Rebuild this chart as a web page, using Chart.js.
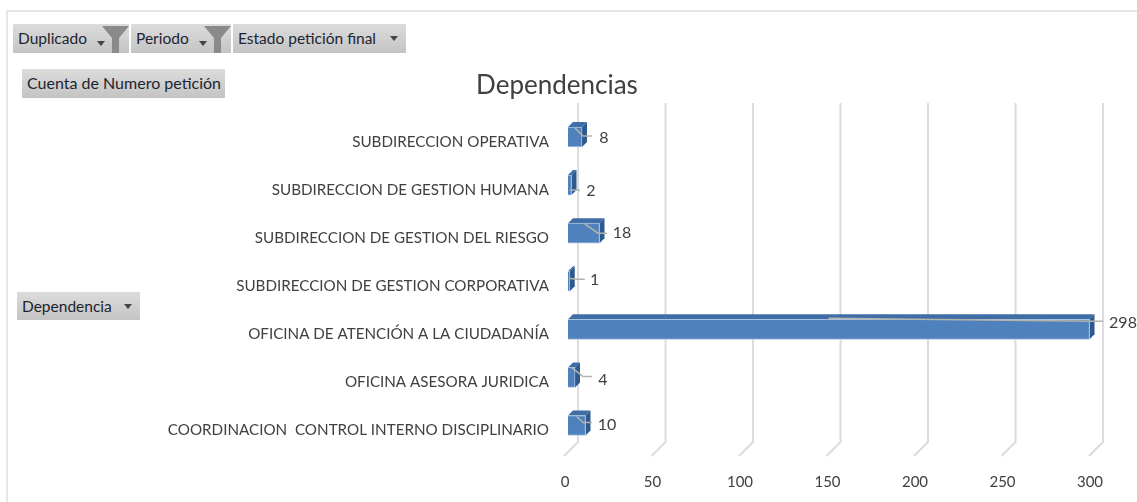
<!DOCTYPE html>
<html><head><meta charset="utf-8">
<script src="https://cdn.jsdelivr.net/npm/chart.js@4"></script>
<style>
html,body{margin:0;padding:0;background:#fff;overflow:hidden}
#wrap{position:relative;width:1137px;height:502px;overflow:hidden}
#frame{position:absolute;left:6px;top:10px;width:1200px;height:600px;border:2px solid #e6e6e6;box-sizing:border-box}
canvas{position:absolute;left:0;top:0}
.btn{position:absolute;box-sizing:border-box;height:29px;background:linear-gradient(#dcdcdc,#c4c4c4);color:#1c2430;font:15.5px/28px Lato,sans-serif;padding-left:5px;white-space:nowrap}
.btn i{position:absolute;width:0;height:0;border-left:4px solid transparent;border-right:4px solid transparent;border-top:5px solid #444}
.btn svg{position:absolute}
</style></head><body>
<div id="wrap">
<div id="frame"></div>
<canvas id="c" width="1137" height="502"></canvas>
<div class="btn" style="left:13px;top:24px;width:116px">Duplicado<i style="left:84px;top:17px"></i><svg style="left:89px;top:1px" width="27" height="28"><path d="M0 1H27L17 13V28H10V13Z" fill="#8a8a8a"/></svg></div>
<div class="btn" style="left:131px;top:24px;width:100px">Periodo<i style="left:68px;top:17px"></i><svg style="left:73px;top:1px" width="27" height="28"><path d="M0 1H27L17 13V28H10V13Z" fill="#8a8a8a"/></svg></div>
<div class="btn" style="left:233px;top:24px;width:173px">Estado petición final<i style="left:157px;top:12px"></i></div>
<div class="btn" style="left:22px;top:69px;width:203px;font-size:16px">Cuenta de Numero petición</div>
<div class="btn" style="left:17px;top:292px;width:123px;height:28px">Dependencia<i style="left:107px;top:12px"></i></div>
</div>
<script>
const categories = ["SUBDIRECCION OPERATIVA","SUBDIRECCION DE GESTION HUMANA","SUBDIRECCION DE GESTION DEL RIESGO","SUBDIRECCION DE GESTION CORPORATIVA","OFICINA DE ATENCIÓN A LA CIUDADANÍA","OFICINA ASESORA JURIDICA","COORDINACION  CONTROL INTERNO DISCIPLINARIO"];
const values = [8,2,18,1,298,4,10];
const chartTitle = "Dependencias";
const seriesName = "Cuenta de Numero petición";

const DEPTH = 5, WALL = 10, FLOOR = 4;
const leaderGap   = [10,8.5,7.5,15,13.5,17,6.5];
const leaderEndDy = [-1,5,0,-2,-8,-1,-3];
const leaderStartDy = [-9,5,-10,-3,-11,-10,-9];
const labelGap = [12,11,15,10,20,11,15];
const labelDy = [1,6,0,-1,-6,2,-1];

const bar3d = {
  id:'bar3d',
  beforeDatasetsDraw(chart){
    const ctx = chart.ctx, x = chart.scales.x;
    ctx.save();
    ctx.strokeStyle = '#dcdcdc'; ctx.lineWidth = 2;
    x.ticks.forEach(t=>{
      const p = x.getPixelForValue(t.value);
      ctx.beginPath();
      ctx.moveTo(p+WALL,103);
      ctx.lineTo(p+WALL,442);
      ctx.lineTo(p-FLOOR,456);
      ctx.stroke();
    });
    chart.getDatasetMeta(0).data.forEach(b=>{
      const top = b.y-b.height/2, bot = b.y+b.height/2, l = b.base, r = b.x;
      ctx.fillStyle = '#3f6ea6';
      ctx.beginPath();
      ctx.moveTo(l,top);ctx.lineTo(l+DEPTH,top-DEPTH);ctx.lineTo(r+DEPTH,top-DEPTH);ctx.lineTo(r,top);ctx.closePath();ctx.fill();
      ctx.fillStyle = '#2f5a8e';
      ctx.beginPath();
      ctx.moveTo(r,top);ctx.lineTo(r+DEPTH,top-DEPTH);ctx.lineTo(r+DEPTH,bot-DEPTH);ctx.lineTo(r,bot);ctx.closePath();ctx.fill();
    });
    ctx.restore();
  },
  afterDatasetsDraw(chart){
    const ctx = chart.ctx;
    ctx.save();
    chart.getDatasetMeta(0).data.forEach((b,i)=>{
      const cx = (b.base+b.x)/2, endX = b.x+leaderGap[i], endY = b.y+leaderEndDy[i];
      ctx.strokeStyle = '#b4b4aa'; ctx.lineWidth = 1.5;
      ctx.beginPath();
      ctx.moveTo(cx,b.y+leaderStartDy[i]);
      ctx.lineTo(endX-9,endY);
      ctx.lineTo(endX,endY);
      ctx.stroke();
      ctx.fillStyle = '#404040';
      ctx.font = '16px Lato,sans-serif';
      ctx.textAlign = 'center'; ctx.textBaseline = 'middle';
      ctx.fillText(String(values[i]), endX+labelGap[i], b.y+labelDy[i]);
    });
    ctx.restore();
  }
};

new Chart(document.getElementById('c'),{
  type:'bar',
  data:{labels:categories,datasets:[{label:seriesName,data:values,backgroundColor:'#4f81bd',borderColor:'#a9c4e6',borderWidth:1,barThickness:20}]},
  plugins:[bar3d],
  options:{
    indexAxis:'y',responsive:false,animation:false,
    layout:{padding:{left:0,right:23,top:0,bottom:0}},
    plugins:{
      legend:{display:false},tooltip:{enabled:false},
      title:{display:true,text:chartTitle,color:'#404040',align:'center',
        font:{family:'Lato',size:26,weight:'normal',lineHeight:1.2},
        padding:{top:70,bottom:11.8}}
    },
    scales:{
      x:{min:0,max:312,position:'bottom',
        grid:{display:false},border:{display:false},
        afterFit(s){s.height=52.5;},
        ticks:{stepSize:50,includeBounds:false,autoSkip:false,color:'#404040',labelOffset:-3,padding:16,maxRotation:0,
          font:{family:'Lato',size:15}}},
      y:{grid:{display:false},border:{display:false},
        afterFit(s){s.width=568;},
        ticks:{color:'#404040',padding:11,labelOffset:5,autoSkip:false,
          font:{family:'Lato',size:15.2}}}
    }
  }
});
</script>
</body></html>
